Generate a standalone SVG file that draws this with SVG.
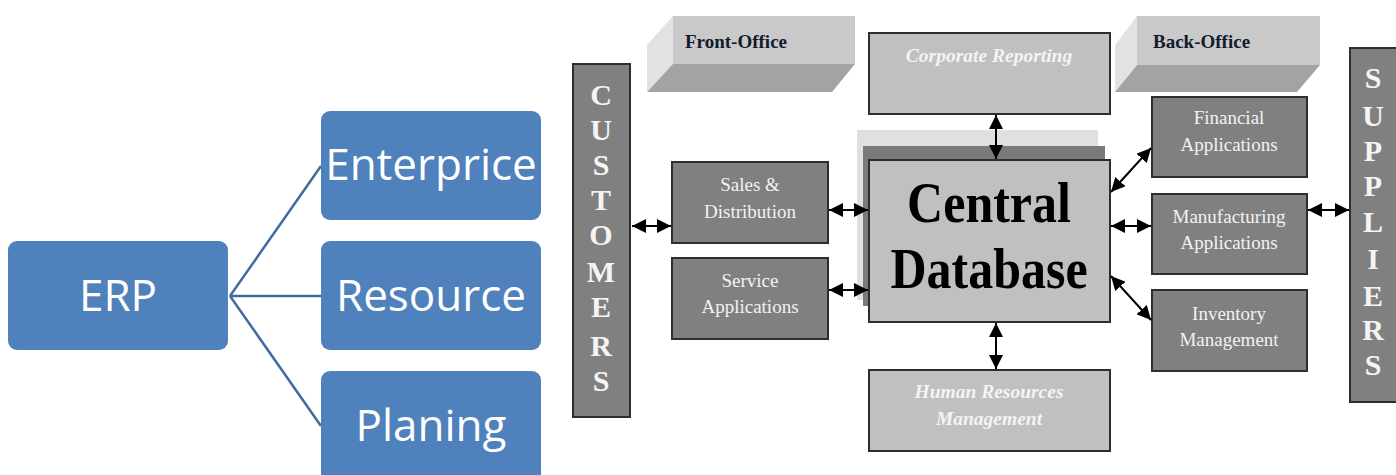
<svg xmlns="http://www.w3.org/2000/svg" width="1396" height="475" viewBox="0 0 1396 475">
  <style>
    .blue { fill: #4f81bd; }
    .blue-txt { font-family: "Open Sans", "Noto Sans", sans-serif; font-size: 44px; fill: #ffffff; text-anchor: middle; }
    .tree { stroke: #3f6c9e; stroke-width: 2.5; fill: none; }
    .dark { fill: #808080; stroke: #2e2e2e; stroke-width: 2; }
    .light { fill: #c0c0c0; stroke: #2e2e2e; stroke-width: 2; }
    .app { font-family: "Liberation Serif", serif; font-size: 19px; fill: #f2f2f2; text-anchor: middle; }
    .ital { font-family: "Liberation Serif", serif; font-size: 19.5px; font-style: italic; font-weight: bold; fill: #f4f4f4; text-anchor: middle; }
    .side { font-family: "Liberation Serif", serif; font-size: 30px; font-weight: bold; fill: #f4f4f4; text-anchor: middle; }
    .office { font-family: "Liberation Serif", serif; font-size: 19px; font-weight: bold; fill: #111a2e; }
    .big { font-family: "Liberation Serif", serif; font-size: 50px; font-weight: bold; fill: #000000; text-anchor: middle; }
    .link { stroke: #000000; stroke-width: 2; fill: none; marker-start: url(#head); marker-end: url(#head); }
  </style>
  <defs>
    <marker id="head" viewBox="0 0 10 10" refX="10" refY="5" markerWidth="7" markerHeight="7" orient="auto-start-reverse">
      <path d="M0,0 L10,5 L0,10 z" fill="#000000"/>
    </marker>
  </defs>

  <!-- ERP acronym tree -->
  <g id="tree-links">
    <path class="tree" d="M230,296 L321,166 M230,296 L321,296 M230,296 L321,426"/>
  </g>
  <g id="erp">
    <rect class="blue" x="8" y="241" width="220" height="109" rx="9"/>
    <text class="blue-txt" x="118" y="311">ERP</text>
  </g>
  <g id="enterprice">
    <rect class="blue" x="321" y="111" width="220" height="109" rx="9"/>
    <text class="blue-txt" x="431" y="180">Enterprice</text>
  </g>
  <g id="resource">
    <rect class="blue" x="321" y="241" width="220" height="109" rx="9"/>
    <text class="blue-txt" x="431" y="311">Resource</text>
  </g>
  <g id="planing">
    <rect class="blue" x="321" y="371" width="220" height="115" rx="9"/>
    <text class="blue-txt" x="431" y="441">Planing</text>
  </g>

  <!-- Office banners (slanted 3D slabs) -->
  <g id="front-office">
    <polygon points="647,45 673,16 673,64 647,92" fill="#e2e2e2"/>
    <rect x="673" y="16" width="182" height="48" fill="#c9c9c9"/>
    <polygon points="673,64 855,64 832,92 647,92" fill="#a3a3a3"/>
    <text class="office" x="685" y="48">Front-Office</text>
  </g>
  <g id="back-office">
    <polygon points="1115,45 1137,16 1137,65 1115,92" fill="#e2e2e2"/>
    <rect x="1137" y="16" width="183" height="49" fill="#c9c9c9"/>
    <polygon points="1137,65 1320,65 1297,92 1115,92" fill="#a3a3a3"/>
    <text class="office" x="1153" y="48">Back-Office</text>
  </g>

  <!-- Side bars -->
  <g id="customers">
    <rect class="dark" x="573" y="64" width="57" height="353"/>
    <text class="side" x="601" y="105">C</text>
    <text class="side" x="601" y="140">U</text>
    <text class="side" x="601" y="175">S</text>
    <text class="side" x="601" y="210">T</text>
    <text class="side" x="601" y="245">O</text>
    <text class="side" x="601" y="282">M</text>
    <text class="side" x="601" y="317">E</text>
    <text class="side" x="601" y="356">R</text>
    <text class="side" x="601" y="391">S</text>
  </g>
  <g id="suppliers">
    <rect class="dark" x="1350" y="48" width="50" height="354"/>
    <text class="side" x="1373" y="88">S</text>
    <text class="side" x="1373" y="126">U</text>
    <text class="side" x="1373" y="161">P</text>
    <text class="side" x="1373" y="196">P</text>
    <text class="side" x="1373" y="232">L</text>
    <text class="side" x="1373" y="269">I</text>
    <text class="side" x="1373" y="306">E</text>
    <text class="side" x="1373" y="340">R</text>
    <text class="side" x="1373" y="375">S</text>
  </g>

  <!-- Front-office applications -->
  <g id="sales-distribution">
    <rect class="dark" x="672" y="162" width="156" height="81"/>
    <text class="app" x="750" y="191">Sales &amp;</text>
    <text class="app" x="750" y="218">Distribution</text>
  </g>
  <g id="service-applications">
    <rect class="dark" x="672" y="258" width="156" height="81"/>
    <text class="app" x="750" y="287">Service</text>
    <text class="app" x="750" y="313">Applications</text>
  </g>

  <!-- Central column -->
  <g id="corporate-reporting">
    <rect class="light" x="869" y="33" width="241" height="81"/>
    <text class="ital" x="989" y="62">Corporate Reporting</text>
  </g>
  <g id="central-database">
    <rect x="857" y="130" width="241" height="170" fill="#e0e0e0"/>
    <rect x="863" y="146" width="242" height="160" fill="#7a7a7a"/>
    <rect class="light" x="869" y="160" width="241" height="162"/>
    <text class="big" transform="translate(989,222) scale(1,1.15)">Central</text>
    <text class="big" transform="translate(989,288) scale(1,1.15)">Database</text>
  </g>
  <g id="human-resources">
    <rect class="light" x="869" y="370" width="241" height="81"/>
    <text class="ital" x="989" y="398">Human Resources</text>
    <text class="ital" x="989" y="425">Management</text>
  </g>

  <!-- Back-office applications -->
  <g id="financial-applications">
    <rect class="dark" x="1152" y="97" width="155" height="80"/>
    <text class="app" x="1229" y="124">Financial</text>
    <text class="app" x="1229" y="151">Applications</text>
  </g>
  <g id="manufacturing-applications">
    <rect class="dark" x="1152" y="194" width="155" height="80"/>
    <text class="app" x="1229" y="223">Manufacturing</text>
    <text class="app" x="1229" y="249">Applications</text>
  </g>
  <g id="inventory-management">
    <rect class="dark" x="1152" y="290" width="155" height="81"/>
    <text class="app" x="1229" y="320">Inventory</text>
    <text class="app" x="1229" y="346">Management</text>
  </g>

  <!-- Two-way data flows -->
  <g id="connectors">
    <line class="link" x1="632" y1="226" x2="671" y2="226"/>
    <line class="link" x1="829" y1="210" x2="868" y2="210"/>
    <line class="link" x1="829" y1="290" x2="868" y2="290"/>
    <line class="link" x1="996" y1="115" x2="996" y2="159"/>
    <line class="link" x1="996" y1="323" x2="996" y2="369"/>
    <line class="link" x1="1111" y1="192" x2="1151" y2="148"/>
    <line class="link" x1="1111" y1="226" x2="1151" y2="226"/>
    <line class="link" x1="1111" y1="276" x2="1151" y2="320"/>
    <line class="link" x1="1308" y1="210" x2="1349" y2="210"/>
  </g>
</svg>
